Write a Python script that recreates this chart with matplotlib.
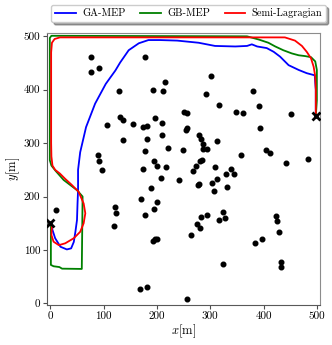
import matplotlib
matplotlib.use('Agg')
import matplotlib.pyplot as plt

plt.rcParams['font.family'] = 'serif'
plt.rcParams['font.serif'] = ['cmr10', 'DejaVu Serif']
plt.rcParams['mathtext.fontset'] = 'cm'
plt.rcParams['axes.unicode_minus'] = False

# obstacles (scattered points)
obstacle_x = [76, 177, 76, 92, 216, 128, 192, 212, 251, 257, 130, 136, 106, 156,
              174, 181, 197, 209, 256, 254, 136, 182, 210, 220, 249, 178, 90, 92,
              96, 194, 201, 217, 174, 301, 292, 381, 316, 392, 349, 362, 452, 393,
              278, 283, 313, 287, 286, 294, 404, 412, 358, 484, 443, 285, 281, 274,
              308, 339, 268, 330, 344, 207, 242, 188, 171, 201, 194, 178, 122, 123,
              119, 192, 197, 200, 11, 169, 182, 279, 277, 304, 313, 332, 307, 282,
              294, 276, 281, 264, 323, 316, 328, 424, 426, 429, 398, 384, 323, 432,
              432, 257]
obstacle_y = [462, 461, 433, 440, 414, 397, 399, 397, 359, 357, 349, 343, 334, 336,
              331, 333, 347, 337, 329, 324, 305, 307, 315, 291, 288, 286, 277, 267,
              250, 266, 258, 255, 251, 425, 392, 397, 371, 369, 359, 356, 354, 328,
              315, 307, 304, 298, 289, 289, 288, 281, 278, 270, 263, 268, 266, 258,
              256, 251, 248, 242, 242, 235, 231, 216, 195, 190, 177, 165, 180, 170,
              144, 117, 120, 120, 174, 27, 30, 224, 221, 225, 233, 218, 210, 162,
              165, 149, 142, 128, 171, 156, 159, 164, 154, 134, 121, 113, 73, 77,
              69, 8]

# start / goal
start = (0, 150)
goal = (498, 350)

# GA-MEP path
ga_x = [0, 9, 19, 31, 39, 44, 47, 50, 51, 52, 52, 52, 56, 67, 84, 104, 122, 131,
        147, 166, 184, 206, 238, 278, 309, 347, 369, 378, 388, 406, 419, 431,
        447, 466, 481, 496, 498, 498]
ga_y = [150, 122, 106, 101, 103, 115, 134, 156, 187, 212, 231, 250, 283, 330,
        374, 411, 436, 451, 474, 487, 493, 493, 492, 488, 482, 481, 482, 485,
        481, 478, 471, 462, 446, 437, 431, 427, 400, 350]

# GB-MEP path
gb_x = [0, 1, 1, 6, 17, 22, 59, 60.5, 50, 25, 10, 2, -1, -1, 2, 369, 391, 409,
        422, 437, 453, 466, 478, 489, 497, 500, 500, 498]
gb_y = [150, 150, 72, 69.5, 68, 65, 64.5, 200, 212, 231, 248, 258, 268, 497,
        501, 500, 494, 488, 481, 474, 468, 464.5, 463, 461, 453, 437, 380, 350]

# Semi-Lagrangian path
sl_x = [0, 3, 2, 6, 16, 28, 44, 56, 62.5, 65.6, 62.5, 53, 40, 28, 18, 9, 4, 2,
        1.5, 1.5, 3, 8, 18, 440, 459, 472, 481, 489, 494, 497, 498, 498]
sl_y = [150, 144, 128, 115.5, 109, 112.5, 122, 134, 150, 168.6, 187, 209, 222,
        233, 243, 250, 258, 275, 300, 470, 488, 495, 498, 498, 492, 482, 471,
        459, 443, 425, 400, 350]

fig = plt.figure(figsize=(3.32, 3.45), dpi=100)
ax = fig.add_axes([0.142, 0.116, 0.822, 0.788])

ax.plot(ga_x, ga_y, color='blue', lw=1.3, label='GA-MEP')
ax.plot(gb_x, gb_y, color='green', lw=1.3, label='GB-MEP')
ax.plot(sl_x, sl_y, color='red', lw=1.3, label='Semi-Lagragian')
ax.scatter(obstacle_x, obstacle_y, s=11, color='black', zorder=3)
ax.plot([start[0], goal[0]], [start[1], goal[1]], 'x', color='black',
        ms=6, mew=2, zorder=4)

ax.set_xlim(-6, 506)
ax.set_ylim(-3, 506)
ax.set_xticks(range(0, 501, 100))
ax.set_yticks(range(0, 501, 100))
ax.tick_params(labelsize=8, length=3, color='0.3', pad=2)
for side in ['top', 'right']:
    ax.spines[side].set_color('0.55')
for side in ['left', 'bottom']:
    ax.spines[side].set_color('0.35')

ax.set_xlabel(r'$x[\mathrm{m}]$', fontsize=9, labelpad=1)
ax.set_ylabel(r'$y[\mathrm{m}]$', fontsize=9, labelpad=1)

# legend box spans roughly px 52..325, 5..22 in the reference
fig.legend(loc='center', bbox_to_anchor=(0.568, 0.961), ncol=3,
           fontsize=7.5, fancybox=True, shadow=True, framealpha=1,
           handlelength=2.0, handletextpad=0.6, columnspacing=1.4,
           borderpad=0.35)

fig.savefig('out.png', dpi=100)
